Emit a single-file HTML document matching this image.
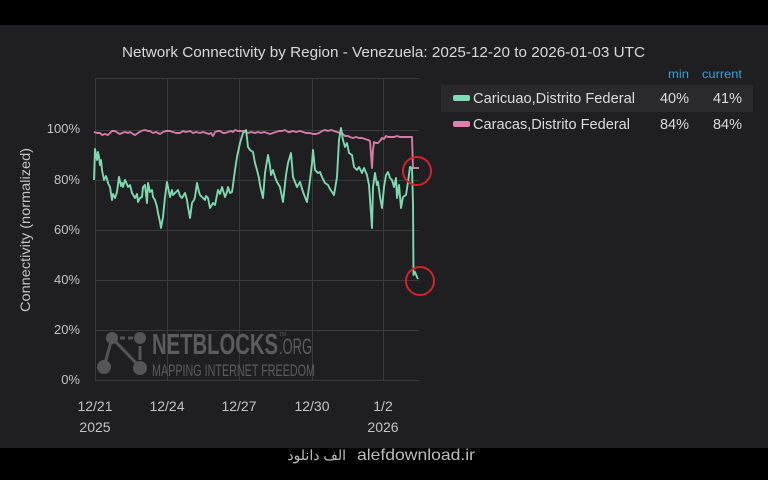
<!DOCTYPE html>
<html>
<head>
<meta charset="utf-8">
<style>
html,body{margin:0;padding:0;background:#000;}
body{width:768px;height:480px;overflow:hidden;}
svg{display:block;}
text{font-family:"Liberation Sans","Noto Sans CJK SC",sans-serif;}
</style>
</head>
<body>
<svg width="768" height="480" viewBox="0 0 768 480" xmlns="http://www.w3.org/2000/svg">
  <rect x="0" y="0" width="768" height="480" fill="#000"/>
  <rect x="0" y="25" width="768" height="423" fill="#1f1f21"/>

  <!-- title -->
  <text x="122" y="57" font-size="15" fill="#d9d9d9" textLength="523" lengthAdjust="spacingAndGlyphs">Network Connectivity by Region - Venezuela: 2025-12-20 to 2026-01-03 UTC</text>

  <!-- grid -->
  <g stroke="#3a3a3c" stroke-width="1" fill="none">
    <line x1="95" y1="78.5" x2="419" y2="78.5"/>
    <line x1="95" y1="130.5" x2="419" y2="130.5"/>
    <line x1="95" y1="180.5" x2="419" y2="180.5"/>
    <line x1="95" y1="230.5" x2="419" y2="230.5"/>
    <line x1="95" y1="280.5" x2="419" y2="280.5"/>
    <line x1="95" y1="330.5" x2="419" y2="330.5"/>
    <line x1="95" y1="380.5" x2="419" y2="380.5"/>
    <line x1="95.5" y1="78" x2="95.5" y2="381"/>
    <line x1="167.5" y1="78" x2="167.5" y2="381"/>
    <line x1="239.5" y1="78" x2="239.5" y2="381"/>
    <line x1="312.5" y1="78" x2="312.5" y2="381"/>
    <line x1="383.5" y1="78" x2="383.5" y2="381"/>
  </g>

  <!-- y labels -->
  <g font-size="13" fill="#c4c4c4" text-anchor="end">
    <text x="80" y="133">100%</text>
    <text x="80" y="184">80%</text>
    <text x="80" y="234">60%</text>
    <text x="80" y="284">40%</text>
    <text x="80" y="334">20%</text>
    <text x="80" y="384">0%</text>
  </g>
  <text transform="translate(30,230) rotate(-90)" text-anchor="middle" font-size="14" fill="#c4c4c4" textLength="164" lengthAdjust="spacingAndGlyphs">Connectivity (normalized)</text>

  <!-- x labels -->
  <g font-size="14" fill="#c4c4c4" text-anchor="middle">
    <text x="95" y="411">12/21</text>
    <text x="95" y="432">2025</text>
    <text x="167" y="411">12/24</text>
    <text x="239" y="411">12/27</text>
    <text x="312" y="411">12/30</text>
    <text x="383" y="411">1/2</text>
    <text x="383" y="432">2026</text>
  </g>

  <!-- watermark logo -->
  <g fill="#58585a" stroke="#58585a" opacity="0.95">
    <line x1="112" y1="338" x2="140" y2="338" stroke-width="3" stroke-dasharray="5,3"/>
    <line x1="112" y1="338" x2="104" y2="367" stroke-width="3"/>
    <line x1="112" y1="338" x2="140" y2="367" stroke-width="3"/>
    <line x1="140" y1="346" x2="140" y2="360" stroke-width="3"/>
    <circle cx="112" cy="338" r="6" stroke="none"/>
    <circle cx="140" cy="338" r="6" stroke="none"/>
    <circle cx="104" cy="367" r="7" stroke="none"/>
    <circle cx="140" cy="368" r="7" stroke="none"/>
  </g>
  <g fill="#5c5c5e">
    <text x="152" y="354" font-size="29" font-weight="bold" textLength="126" lengthAdjust="spacingAndGlyphs">NETBLOCKS</text>
    <text x="279" y="354" font-size="22" textLength="33" lengthAdjust="spacingAndGlyphs">.ORG</text>
    <text x="279" y="336" font-size="5">TM</text>
    <text x="152" y="376" font-size="16.5" textLength="163" lengthAdjust="spacingAndGlyphs">MAPPING INTERNET FREEDOM</text>
  </g>

  <!-- pink series -->
  <polyline fill="none" stroke="#d27ca6" stroke-width="1.9" stroke-linejoin="round"
    points="94,132 97,133 100,133 102,135 105,134 108,135 110,133 112,131 115,131 118,133 120,134 122,133 125,132 128,133 130,132 133,134 135,135 138,133 141,131 145,130 148,131 150,131 153,133 156,132 160,134 163,132 166,131 170,131 173,132 176,133 180,133 183,131 186,132 190,131 193,133 196,132 200,133 203,132 206,133 209,134 211,133 213,136 215,132 218,131 220,131 223,133 225,133 228,132 231,131 233,132 235,130 238,131 241,131 245,131 248,133 251,132 255,133 258,132 261,133 264,132 267,133 270,134 273,133 276,132 279,131 282,131 285,130 288,132 290,132 293,131 296,132 300,131 303,132 306,133 310,133 313,134 316,134 319,133 322,131 325,130 328,131 331,130 334,131 337,132 340,133 343,134 345,136 348,136 350,137 353,138 356,137 359,138 362,138 365,139 368,140 370,141 372,168 373,150 374,142 376,143 378,143 380,141 382,138 384,139 386,136 388,137 391,137 394,137 397,136 400,137 403,137 406,137 409,137 412,137 413,168 416,168 419,168"/>

  <!-- green series -->
  <polyline fill="none" stroke="#7fd9b0" stroke-width="1.9" stroke-linejoin="round"
    points="94,180 95,149 97,160 98,152 99,157 100,165 101,160 102,170 104,180 106,176 107,179 108,183 110,187 112,200 113,194 115,198 117,192 119,177 121,186 122,183 123,187 125,180 126,182 128,187 130,185 132,193 135,198 137,194 138,202 140,198 142,197 143,187 145,185 147,203 148,183 150,192 152,190 153,197 155,200 157,207 158,213 160,222 161,228 163,217 165,197 167,182 168,187 170,197 172,190 173,195 175,193 178,190 180,196 182,198 185,193 187,200 188,207 190,218 192,203 194,200 195,197 197,183 199,192 200,195 203,198 205,200 206,196 208,198 210,208 213,203 215,205 218,190 220,194 222,187 225,197 227,192 228,187 230,193 232,192 233,185 235,170 237,157 240,143 243,133 246,130 247,138 248,147 250,150 253,152 255,163 257,170 259,178 260,185 263,198 265,173 268,155 270,166 271,175 273,170 275,177 277,182 280,187 283,202 286,175 288,163 291,153 293,177 295,182 297,187 300,182 303,192 307,202 310,180 312,163 313,150 315,170 318,173 320,172 322,177 325,183 328,185 330,189 332,192 334,195 337,177 339,140 341,128 343,140 345,147 347,143 349,153 352,155 354,167 357,170 359,167 362,173 364,168 367,175 369,185 372,228 373,187 375,173 377,185 378,182 380,197 382,208 384,187 386,175 388,172 390,178 392,180 394,187 396,178 397,198 399,185 401,208 403,197 406,195 408,182 410,167 412,168 413,203 413.5,275 415,272 417,277 418,279"/>

  <!-- red circles -->
  <circle cx="417" cy="171" r="14" fill="none" stroke="#d0242b" stroke-width="2"/>
  <circle cx="420" cy="281" r="14" fill="none" stroke="#d0242b" stroke-width="2"/>

  <!-- legend -->
  <text x="668" y="78" font-size="12" fill="#3d9fd4" textLength="21" lengthAdjust="spacingAndGlyphs">min</text>
  <text x="702" y="78" font-size="12" fill="#3d9fd4" textLength="40" lengthAdjust="spacingAndGlyphs">current</text>
  <rect x="441" y="85" width="312" height="27" fill="#2a2a2c"/>
  <rect x="453" y="95" width="17" height="6" rx="2" fill="#7fdcb3"/>
  <text x="473" y="103" font-size="14.5" fill="#dcdcdc" textLength="162" lengthAdjust="spacingAndGlyphs">Caricuao,Distrito Federal</text>
  <text x="689" y="103" font-size="14.5" fill="#dcdcdc" text-anchor="end">40%</text>
  <text x="742" y="103" font-size="14.5" fill="#dcdcdc" text-anchor="end">41%</text>
  <rect x="453" y="121" width="17" height="6" rx="2" fill="#dd80ad"/>
  <text x="473" y="129" font-size="14.5" fill="#dcdcdc" textLength="157" lengthAdjust="spacingAndGlyphs">Caracas,Distrito Federal</text>
  <text x="689" y="129" font-size="14.5" fill="#dcdcdc" text-anchor="end">84%</text>
  <text x="742" y="129" font-size="14.5" fill="#dcdcdc" text-anchor="end">84%</text>

  <!-- bottom watermark -->
  <text x="346" y="460" font-size="14" fill="#bdbdbd" text-anchor="end" font-family="'Liberation Sans','DejaVu Sans',sans-serif">الف دانلود</text>
  <text x="357" y="460" font-size="16" fill="#bdbdbd" textLength="118" lengthAdjust="spacingAndGlyphs">alefdownload.ir</text>
</svg>
</body>
</html>
